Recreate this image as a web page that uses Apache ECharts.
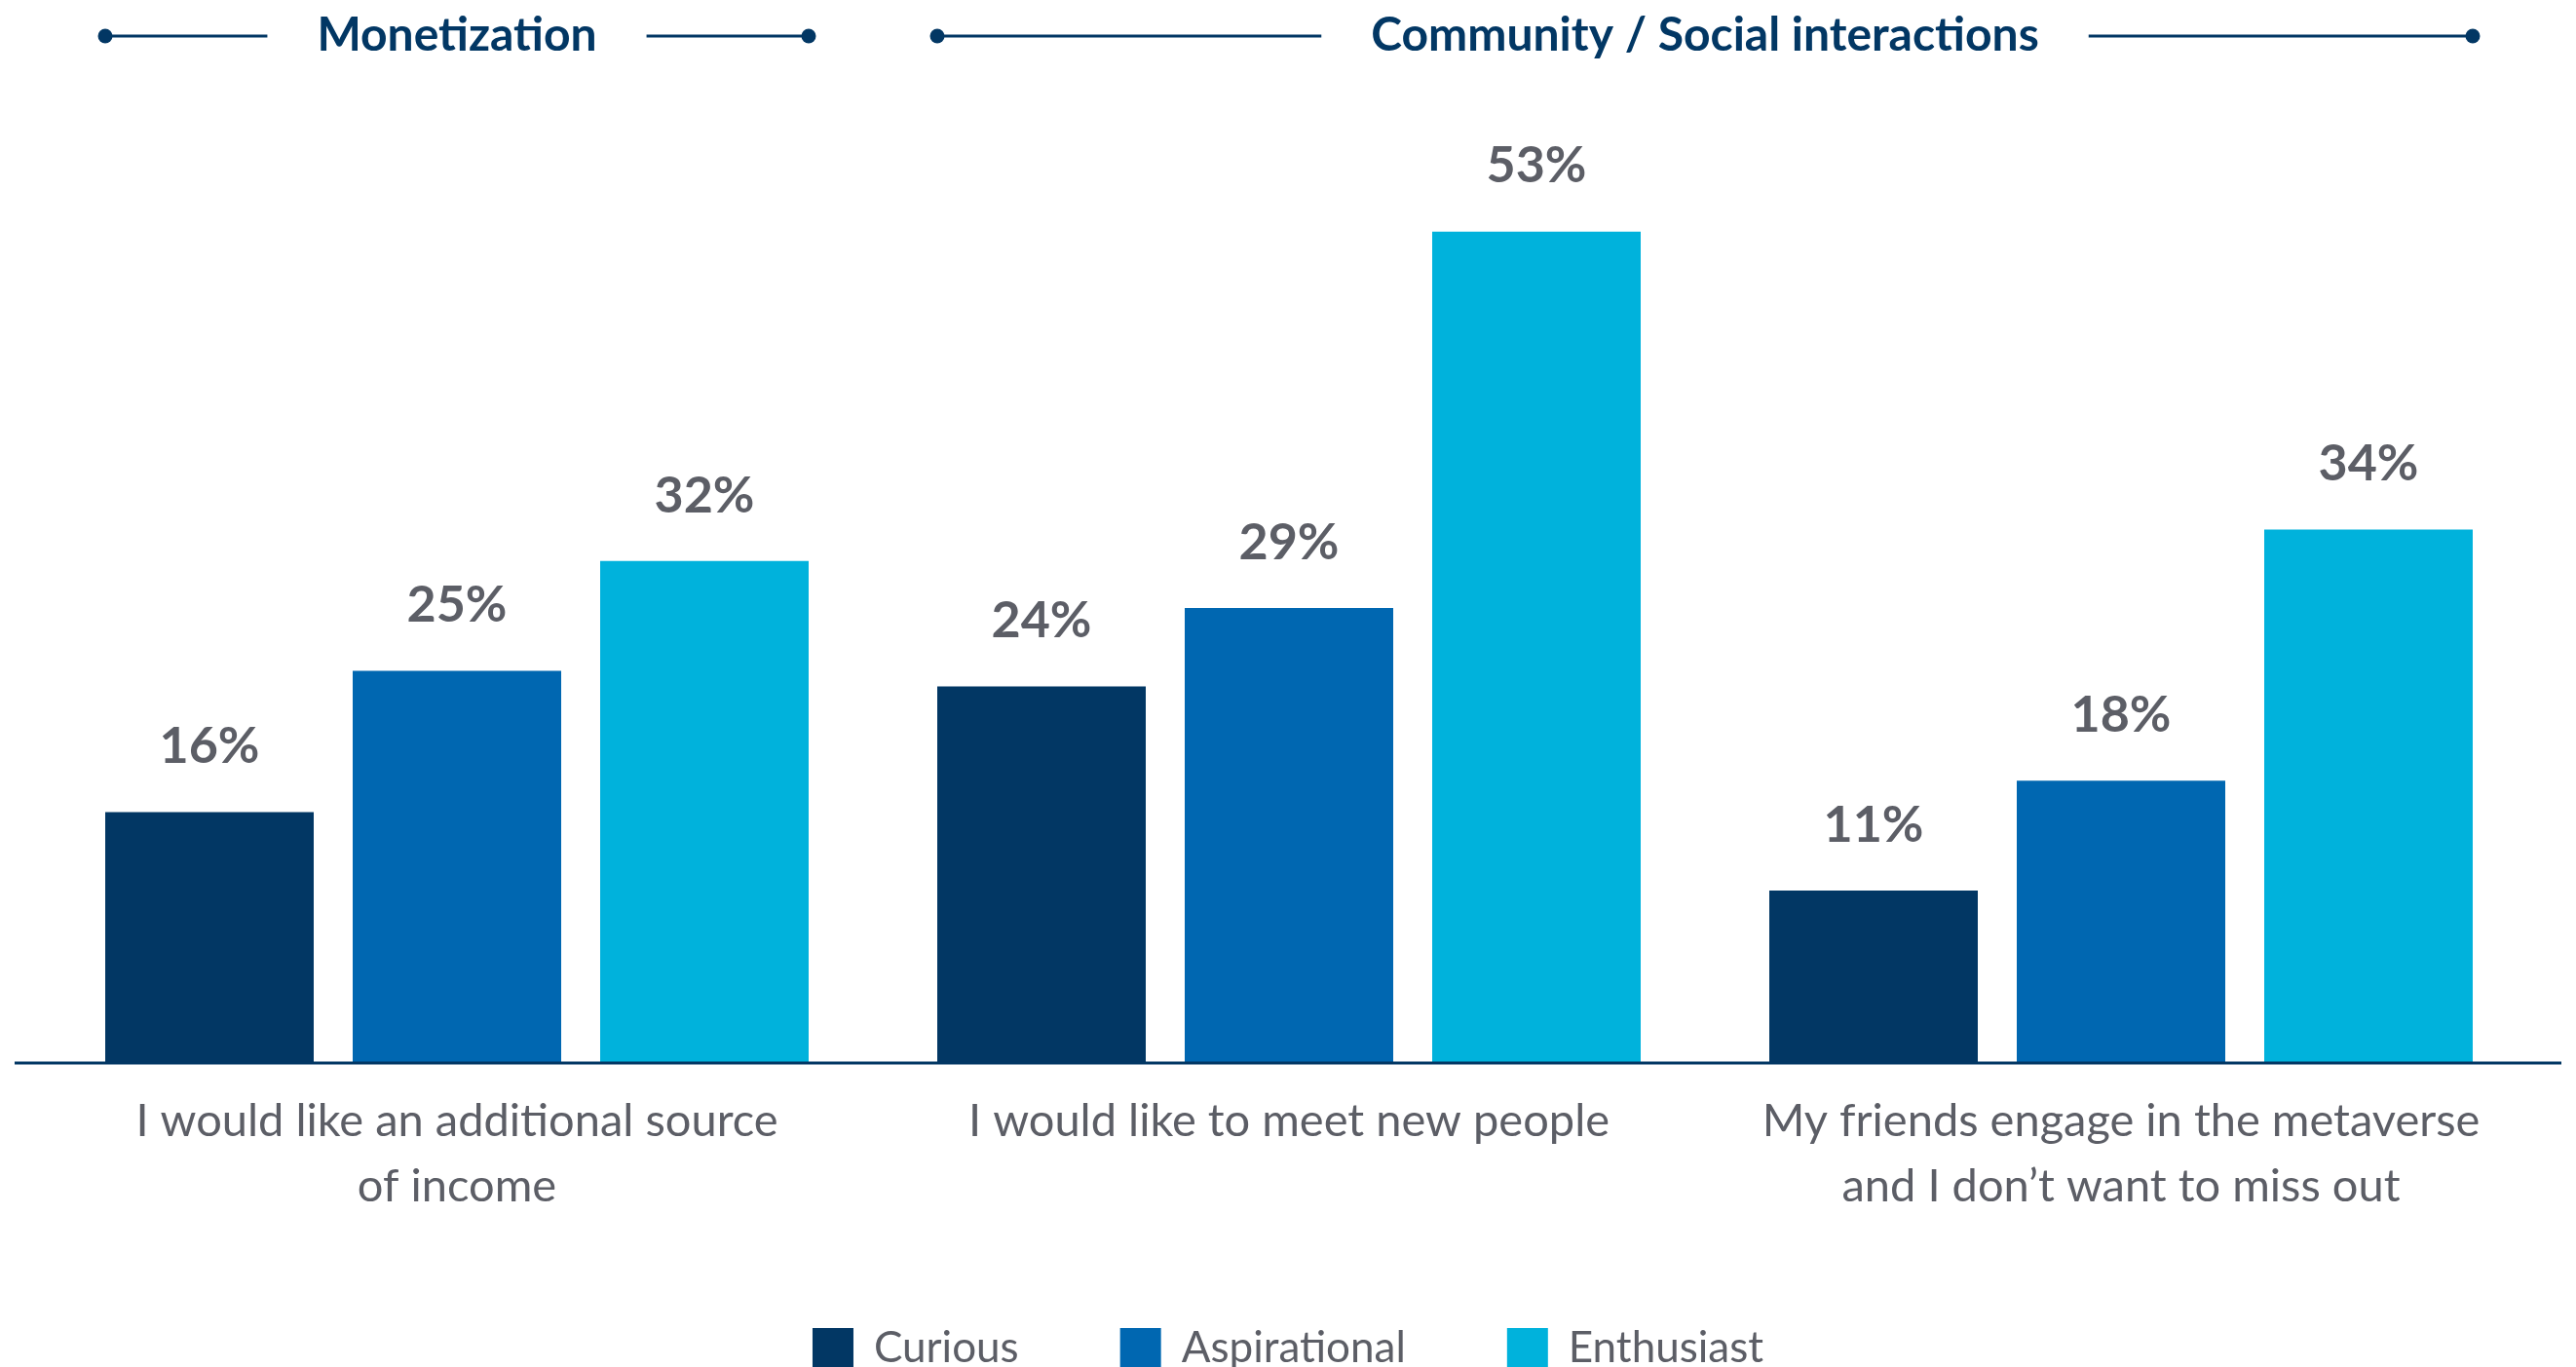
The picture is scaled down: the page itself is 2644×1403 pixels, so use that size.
<!DOCTYPE html>
<html>
<head>
<meta charset="utf-8">
<title>Motivations by segment</title>
<script src="https://cdn.jsdelivr.net/npm/echarts@6/dist/echarts.min.js"></script>
<style>
  html, body { margin: 0; padding: 0; background: #ffffff; }
  #chart { width: 2644px; height: 1403px; }
</style>
</head>
<body>
<div id="chart"></div>
<script>
// Survey answers (categories) and share of each segment, in percent
const categories = [
  'I would like an additional source\nof income',
  'I would like to meet new people',
  'My friends engage in the metaverse\nand I don\u2019t want to miss out'
];
const seriesNames = ['Curious', 'Aspirational', 'Enthusiast'];
const curious = [16, 24, 11];
const aspirational = [25, 29, 18];
const enthusiast = [32, 53, 34];

// Group headings spanning category ranges (first index, last index)
const headings = ['Monetization', 'Community / Social interactions'];
const headingFrom = [0, 1];
const headingTo = [0, 2];

const NAVY = '#023764';
const COLORS = ['#023764', '#0067b1', '#00b2dc'];
const GRAY = '#5c5e66';
const FONT = 'Lato, "Open Sans", "Noto Sans", sans-serif';

const BAR_W = 214;
const BAR_GAP_PX = 40;
const GRID = { left: 42, right: 40, top: 125, bottom: 312 };

const chart = echarts.init(document.getElementById('chart'), null, { renderer: 'canvas' });

function barSeries(name, values, color) {
  return {
    name: name,
    type: 'bar',
    data: values,
    barWidth: BAR_W,
    barGap: (BAR_GAP_PX / BAR_W * 100).toFixed(2) + '%',
    itemStyle: { color: color },
    label: {
      show: true,
      position: 'top',
      distance: 41,
      formatter: '{c}%',
      color: GRAY,
      fontFamily: FONT,
      fontWeight: 'bold',
      fontSize: 52,
      lineHeight: 52
    },
    emphasis: { disabled: true },
    animation: false
  };
}

const option = {
  backgroundColor: '#ffffff',
  animation: false,
  grid: GRID,
  legend: {
    data: seriesNames,
    left: 'center',
    top: 1357,
    itemWidth: 42,
    itemHeight: 42,
    itemGap: 104,
    icon: 'rect',
    textStyle: {
      color: GRAY,
      fontFamily: FONT,
      fontSize: 44,
      padding: [0, 0, 0, 16]
    },
    selectedMode: false
  },
  xAxis: {
    type: 'category',
    data: categories,
    axisLine: { show: false },
    axisTick: { show: false },
    axisLabel: {
      interval: 0,
      margin: 26,
      color: GRAY,
      fontFamily: FONT,
      fontSize: 47,
      lineHeight: 67,
      align: 'center'
    }
  },
  yAxis: {
    type: 'value',
    min: 0,
    max: 60,
    show: false,
    splitLine: { show: false }
  },
  series: [
    barSeries(seriesNames[0], curious, COLORS[0]),
    barSeries(seriesNames[1], aspirational, COLORS[1]),
    barSeries(seriesNames[2], enthusiast, COLORS[2])
  ]
};

chart.setOption(option);

// Baseline and group headings placed from the axis scale
function decorate() {
  const width = chart.getWidth();
  const y0 = chart.convertToPixel({ yAxisIndex: 0 }, 0);
  const halfGroup = BAR_W * 1.5 + BAR_GAP_PX;
  const ctx = document.createElement('canvas').getContext('2d');
  const headFont = 'bold 48px ' + FONT;
  ctx.font = headFont;

  const elements = [{
    type: 'line',
    shape: { x1: GRID.left - 27, y1: y0, x2: width - GRID.right + 25, y2: y0 },
    style: { stroke: NAVY, lineWidth: 3 },
    z: 10
  }];

  const headY = 37;
  const gapToText = 51;
  headings.forEach(function (txt, k) {
    const left = chart.convertToPixel({ xAxisIndex: 0 }, categories[headingFrom[k]]) - halfGroup;
    const right = chart.convertToPixel({ xAxisIndex: 0 }, categories[headingTo[k]]) + halfGroup;
    const cx = (left + right) / 2;
    const tw = ctx.measureText(txt).width;
    elements.push({
      type: 'text',
      x: cx,
      y: headY,
      style: {
        text: txt,
        font: headFont,
        fill: NAVY,
        align: 'center',
        verticalAlign: 'middle'
      }
    });
    elements.push({
      type: 'line',
      shape: { x1: left, y1: headY, x2: cx - tw / 2 - gapToText, y2: headY },
      style: { stroke: NAVY, lineWidth: 3 }
    });
    elements.push({
      type: 'line',
      shape: { x1: cx + tw / 2 + gapToText, y1: headY, x2: right, y2: headY },
      style: { stroke: NAVY, lineWidth: 3 }
    });
    elements.push({
      type: 'circle',
      shape: { cx: left, cy: headY, r: 7.5 },
      style: { fill: NAVY }
    });
    elements.push({
      type: 'circle',
      shape: { cx: right, cy: headY, r: 7.5 },
      style: { fill: NAVY }
    });
  });

  chart.setOption({ graphic: { elements: elements } });
}

decorate();
</script>
</body>
</html>
